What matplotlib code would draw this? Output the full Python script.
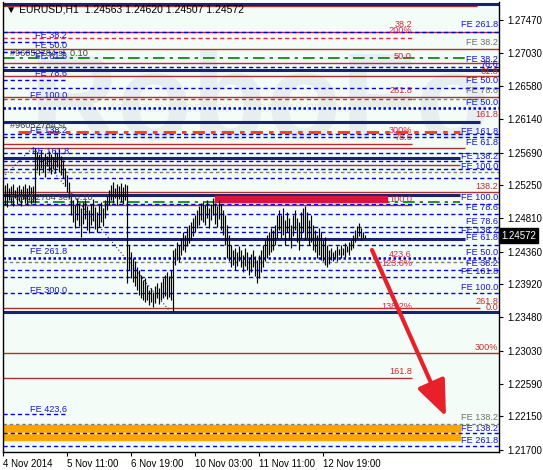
import matplotlib
matplotlib.use('Agg')
import matplotlib.pyplot as plt
import matplotlib.transforms as mtransforms
from matplotlib.patches import Rectangle

plt.rcParams['font.family'] = ['Liberation Sans', 'DejaVu Sans']

# ---- data ----
title = 'EURUSD,H1  1.24563 1.24620 1.24507 1.24572'
last_price = 1.24572

date_labels = ['4 Nov 2014', '5 Nov 11:00', '6 Nov 19:00', '10 Nov 03:00',
               '11 Nov 11:00', '12 Nov 19:00']
date_pos = [0, 32, 64, 96, 128, 160]

price_ticks = [1.27470, 1.27030, 1.26580, 1.26140, 1.25690, 1.25250, 1.24810,
               1.24360, 1.23920, 1.23480, 1.23030, 1.22590, 1.22150, 1.21700]

# hourly bar highs / lows
highs = [
    1.2526, 1.2528, 1.2522, 1.2524, 1.2527, 1.2519, 1.2523, 1.2526, 1.2520, 1.2524,
    1.2527, 1.2522, 1.2526, 1.2523, 1.2524,
    1.2575,
    1.2570, 1.2566, 1.2572, 1.2562, 1.2568, 1.2564, 1.2571, 1.2567, 1.2563, 1.2572,
    1.2568, 1.2574, 1.2564,
    1.2559, 1.2548, 1.2539, 1.2530,
    1.2512, 1.2505, 1.2499, 1.2508, 1.2501, 1.2495, 1.2503, 1.2505, 1.2497, 1.2492,
    1.2500, 1.2507, 1.2496, 1.2489, 1.2499, 1.2503, 1.2495, 1.2505, 1.2511, 1.2519,
    1.2526, 1.2530, 1.2522, 1.2527, 1.2524, 1.2528, 1.2523, 1.2527,
    1.2526,
    1.2445, 1.2436, 1.2428, 1.2423, 1.2415, 1.2412, 1.2405, 1.2398, 1.2401,
    1.2391, 1.2385, 1.2387, 1.2382, 1.2390, 1.2394, 1.2387, 1.2395, 1.2401, 1.2405,
    1.2409, 1.2403, 1.2412, 1.2438,
    1.2441, 1.2449, 1.2445, 1.2454, 1.2462, 1.2458, 1.2468, 1.2472, 1.2476, 1.2481,
    1.2485, 1.2492, 1.2497, 1.2501,
    1.2503, 1.2499, 1.2505, 1.2495, 1.2500, 1.2508, 1.2501, 1.2497, 1.2505, 1.2500,
    1.2492, 1.2485,
    1.2472, 1.2459, 1.2445, 1.2438, 1.2441, 1.2436, 1.2444, 1.2438, 1.2432, 1.2441,
    1.2436, 1.2428, 1.2433, 1.2438, 1.2430, 1.2425, 1.2432,
    1.2438, 1.2445, 1.2452, 1.2459, 1.2463, 1.2468, 1.2465, 1.2472, 1.2485,
    1.2492, 1.2485, 1.2495, 1.2479, 1.2489, 1.2481, 1.2472, 1.2485, 1.2492, 1.2481,
    1.2476, 1.2489, 1.2495, 1.2497,
    1.2489, 1.2479, 1.2485, 1.2472, 1.2465, 1.2459, 1.2468, 1.2463, 1.2452, 1.2456,
    1.2445, 1.2438,
    1.2441, 1.2436, 1.2438, 1.2444, 1.2440, 1.2445, 1.2441, 1.2448, 1.2444, 1.2449,
    1.2452,
    1.2459, 1.2465, 1.2470, 1.2474, 1.2468, 1.2463, 1.2459,
]
lows = [
    1.2499, 1.2496, 1.2505, 1.2501, 1.2497, 1.2508, 1.2500, 1.2504, 1.2497, 1.2507,
    1.2501, 1.2499, 1.2505, 1.2500, 1.2503,
    1.2501,
    1.2546, 1.2539, 1.2548, 1.2543, 1.2536, 1.2551, 1.2544, 1.2540, 1.2547, 1.2542,
    1.2550, 1.2543, 1.2539,
    1.2535, 1.2524, 1.2516, 1.2508,
    1.2485, 1.2476, 1.2468, 1.2479, 1.2471, 1.2456, 1.2473, 1.2480, 1.2465, 1.2461,
    1.2472, 1.2477, 1.2467, 1.2463, 1.2469, 1.2476, 1.2471, 1.2481, 1.2492, 1.2499,
    1.2505, 1.2501, 1.2508, 1.2499, 1.2507, 1.2503, 1.2500, 1.2505,
    1.2394,
    1.2412, 1.2401, 1.2396, 1.2390, 1.2385, 1.2378, 1.2374, 1.2371, 1.2369,
    1.2371, 1.2365, 1.2369, 1.2362, 1.2367, 1.2374, 1.2366, 1.2371, 1.2374, 1.2377,
    1.2373, 1.2375, 1.2371, 1.2356,
    1.2418, 1.2425, 1.2422, 1.2432, 1.2438, 1.2436, 1.2444, 1.2448, 1.2452, 1.2457,
    1.2463, 1.2468, 1.2472, 1.2479,
    1.2476, 1.2472, 1.2481, 1.2468, 1.2479, 1.2485, 1.2473, 1.2469, 1.2480, 1.2465,
    1.2459, 1.2445,
    1.2428, 1.2423, 1.2415, 1.2418, 1.2412, 1.2417, 1.2423, 1.2415, 1.2409, 1.2417,
    1.2412, 1.2405, 1.2409, 1.2415, 1.2404, 1.2394, 1.2401,
    1.2409, 1.2415, 1.2423, 1.2428, 1.2432, 1.2436, 1.2438, 1.2445, 1.2455,
    1.2465, 1.2455, 1.2459, 1.2445, 1.2463, 1.2452, 1.2441, 1.2457, 1.2465, 1.2449,
    1.2438, 1.2455, 1.2463, 1.2452,
    1.2455, 1.2445, 1.2449, 1.2438, 1.2436, 1.2428, 1.2432, 1.2425, 1.2423, 1.2418,
    1.2415, 1.2419,
    1.2425, 1.2423, 1.2428, 1.2424, 1.2431, 1.2427, 1.2432, 1.2429, 1.2435, 1.2432,
    1.2438,
    1.2441, 1.2449, 1.2455, 1.2457, 1.2452, 1.2455, 1.2455,
]

# fibo / order levels: (price, x_start, x_end) in bar units
END = 248
navy_levels = [(1.27684, 0, END), (1.26799, 0, END), (1.26101, 0, 238.5),
               (1.25618, 0, 228.5), (1.25121, 0, 228.5), (1.24531, 0, 231),
               (1.23551, 0, END)]
red_levels = [(1.27657, 0, 237), (1.27305, 0, END), (1.27076, 0, END),
              (1.26888, 0, END), (1.26718, 0, END), (1.26436, 0, END),
              (1.25806, 0, 204.5), (1.25752, 0, 231), (1.25524, 0, 228.5),
              (1.25161, 0, END), (1.24987, 0, 204.5), (1.23605, 0, 238.5),
              (1.23001, 0, END), (1.22665, 0, 204.5)]
blue_dashed = [(1.27315, 0, END), (1.27178, 0, 32), (1.27044, 0, 32),
               (1.26843, 0, END), (1.26664, 0, 32), (1.26557, 0, END),
               (1.25940, 0, END), (1.25900, 0, END), (1.25685, 0, END),
               (1.25578, 0, END), (1.25470, 0, END), (1.25349, 0, END),
               (1.25000, 0, END), (1.24866, 0, END), (1.24692, 0, END),
               (1.24625, 0, END), (1.24451, 0, END), (1.24115, 0, END),
               (1.24021, 0, END), (1.23806, 0, END), (1.22182, 0, 32),
               (1.21927, 0, END), (1.21753, 0, END)]
blue_dotted = [(1.26289, 0, END), (1.24276, 0, END)]
crimson_dashed = [(1.27224, 0, 204.5), (1.26409, 0, 204.5)]
gray_dashed = [(1.26409, 204.5, 238), (1.25430, 0, END), (1.24222, 0, END),
               (1.22048, 0, END)]
green_dashdot = [(1.26956, 0, 231), (1.25027, 0, 228.5)]
orange_dashdot = [(1.25967, 7.5, 228.5)]

red_zone = (1.25027, 1.25108, 106, 192)
orange_zone = (1.21833, 1.22034, 0, 228.5)

# ---- figure ----
fig = plt.figure(figsize=(5.43, 4.70), dpi=100)
fig.patch.set_facecolor('white')
ax = fig.add_axes([3 / 543, 18 / 470, 496 / 543, 450 / 470])
ax.set_facecolor('#F4FCF7')
ax.set_xlim(0, END)
ax.set_ylim(1.21672, 1.27711)

# watermark
ax.text(0.055, 0.695, 'RoboForex', transform=ax.transAxes, fontsize=88,
        fontweight='bold', color='#E6EEF0', va='baseline', ha='left', zorder=0,
        clip_on=True)
ax.text(0.21, 0.755, 'ИСПОЛЬЗУЙ РОБОТОВ — ПОЛУЧАЙ ПРИБЫЛЬ',
        transform=ax.transAxes, fontsize=8, color='#E6ECEC', zorder=0,
        clip_on=True)

def hl(levels, **kw):
    for y, x0, x1 in levels:
        ax.hlines(y, x0, x1, **kw)

hl(red_levels, colors='#B03030', lw=1.0, zorder=2)
hl(blue_dashed, colors='#0000E0', lw=1.0, linestyles=(0, (3, 2.2)), zorder=2)
hl(blue_dotted, colors='#0000E0', lw=1.8, linestyles=(0, (1, 1)), zorder=2)
hl(crimson_dashed, colors='#E8204A', lw=1.0, linestyles=(0, (3, 2.2)), zorder=2)
hl(gray_dashed, colors='#808080', lw=1.0, linestyles=(0, (2.5, 2)), zorder=2)
hl(green_dashdot, colors='#008000', lw=1.2, linestyles=(0, (7, 3, 2, 3)), zorder=2)
hl(orange_dashdot, colors='#FF4500', lw=2.2, linestyles=(0, (4, 2, 1.5, 2)), zorder=2)
hl(navy_levels, colors='#1A2370', lw=2.2, zorder=2)

y0, y1, x0, x1 = red_zone
ax.add_patch(Rectangle((x0, y0), x1 - x0, y1 - y0, color='#DC143C', zorder=2))
y0, y1, x0, x1 = orange_zone
ax.add_patch(Rectangle((x0, y0), x1 - x0, y1 - y0, color='#FFA500', zorder=1.5))
ax.hlines(1.21927, 0, END, colors='white', lw=1.0, zorder=1.8)

# trend lines (dotted)
ax.plot([0, 15], [1.2536, 1.2576], color='#1A2370', lw=0.8, ls=(0, (1, 2)), zorder=2)
ax.plot([15, 83.5], [1.2576, 1.2356], color='#1A2370', lw=0.8, ls=(0, (1, 2)), zorder=2)

# price bars
xs = [i + 1 for i in range(len(highs))]
ax.vlines(xs, lows, highs, colors='black', lw=0.85, zorder=3)

# arrow
ax.annotate('', xy=(221.5, 1.22147), xytext=(184.5, 1.24383),
            arrowprops=dict(arrowstyle='-|>,head_length=2.2,head_width=0.9',
                            lw=3, color='#E8202A', mutation_scale=10,
                            shrinkA=0, shrinkB=0), zorder=4)

# level labels
BLUE, RED, CRIM, GRAY = '#1515D5', '#C03030', '#E8204A', '#707070'
R, M = 247.5, 204.5
labels = [
    ('FE 38.2', 16, 1.27268, BLUE, 'left'), ('FE 50.0', 16, 1.27121, BLUE, 'left'),
    ('FE 61.8', 16, 1.26973, BLUE, 'left'), ('FE 78.6', 16, 1.26745, BLUE, 'left'),
    ('FE 100.0', 13.5, 1.26450, BLUE, 'left'), ('FE 138.2', 13.5, 1.25980, BLUE, 'left'),
    ('FE 161.8', 14.5, 1.25698, BLUE, 'left'), ('FE 261.8', 13.5, 1.24356, BLUE, 'left'),
    ('FE 300.0', 13.5, 1.23846, BLUE, 'left'), ('FE 423,6', 13.5, 1.22249, BLUE, 'left'),
    ('#96052784 sl  0.10', 3.5, 1.27015, '#404040', 'left'),
    ('#96052784 sl', 3.5, 1.26047, '#404040', 'left'),
    ('#96052784 sell 0.10', 3.5, 1.25094, '#404040', 'left'),
    ('FE 261.8', R, 1.27403, BLUE, 'right'), ('38.2', M, 1.27403, RED, 'right'),
    ('200%', M, 1.27322, CRIM, 'right'), ('FE 38.2', R, 1.27161, GRAY, 'right'),
    ('50.0', M, 1.26973, RED, 'right'), ('FE 38.2', R, 1.26933, BLUE, 'right'),
    ('78.6', R, 1.26866, BLUE, 'right'), ('61.8', R, 1.26785, RED, 'right'),
    ('FE 50.0', R, 1.26651, BLUE, 'right'), ('261.8', M, 1.26530, RED, 'right'),
    ('FE 78.6', R, 1.26530, GRAY, 'right'), ('FE 50.0', R, 1.26356, BLUE, 'right'),
    ('161.8', R, 1.26195, RED, 'right'), ('300%', M, 1.25980, CRIM, 'right'),
    ('FE 161.8', R, 1.25967, BLUE, 'right'), ('78.6', M, 1.25886, RED, 'right'),
    ('FE 61.8', R, 1.25819, BLUE, 'right'), ('FE 138.2', R, 1.25631, BLUE, 'right'),
    ('FE 100.0', R, 1.25497, BLUE, 'right'), ('138.2', R, 1.25230, RED, 'right'),
    ('100.0', M, 1.25067, RED, 'right'), ('FE 100.0', R, 1.25081, BLUE, 'right'),
    ('FE 78.6', R, 1.24947, BLUE, 'right'), ('FE 78.6', R, 1.24759, BLUE, 'right'),
    ('FE 138.2', R, 1.24651, BLUE, 'right'), ('FE 61.8', R, 1.24557, BLUE, 'right'),
    ('FE 50.0', R, 1.24343, BLUE, 'right'), ('423.6', M, 1.24316, CRIM, 'right'),
    ('123.6%', M, 1.24195, CRIM, 'right'), ('FE 38.2', R, 1.24195, BLUE, 'right'),
    ('FE 161.8', R, 1.24088, BLUE, 'right'), ('FE 100.0', R, 1.23873, BLUE, 'right'),
    ('138.2%', M, 1.23618, CRIM, 'right'), ('261.8', R, 1.23686, RED, 'right'),
    ('0.0', R, 1.23605, RED, 'right'), ('300%', R, 1.23081, RED, 'right'),
    ('161.8', M, 1.22746, RED, 'right'), ('FE 138.2', R, 1.22129, GRAY, 'right'),
    ('FE 138.2', R, 1.21994, BLUE, 'right'), ('FE 261.8', R, 1.21833, BLUE, 'right'),
]
for txt, x, y, c, ha in labels:
    ax.text(x, y, txt, color=c, fontsize=6.6, ha=ha, va='center', zorder=5)

# axes styling
for s in ['left', 'right', 'bottom']:
    ax.spines[s].set_color('black')
    ax.spines[s].set_linewidth(1.0)
ax.spines['top'].set_visible(False)

ax.yaxis.tick_right()
ax.set_yticks(price_ticks)
ax.set_yticklabels(['%.5f' % p for p in price_ticks])
ax.tick_params(axis='y', labelsize=7, length=3, pad=3, colors='black')
ax.set_xticks(date_pos)
ax.set_xticklabels(date_labels, ha='left')
ax.tick_params(axis='x', labelsize=7, length=3, pad=2)

trans = mtransforms.blended_transform_factory(ax.transAxes, ax.transData)
ax.text(1.004, last_price, '1.24572', transform=trans, color='white', fontsize=7,
        va='center', ha='left', zorder=6, clip_on=False,
        bbox=dict(boxstyle='square,pad=0.25', fc='black', ec='black'))

fig.text(6 / 543, 1 - 10 / 470, '\u25bc ' + title, fontsize=7.5, color='black',
         va='center', ha='left')

fig.savefig('out.png', dpi=100)
